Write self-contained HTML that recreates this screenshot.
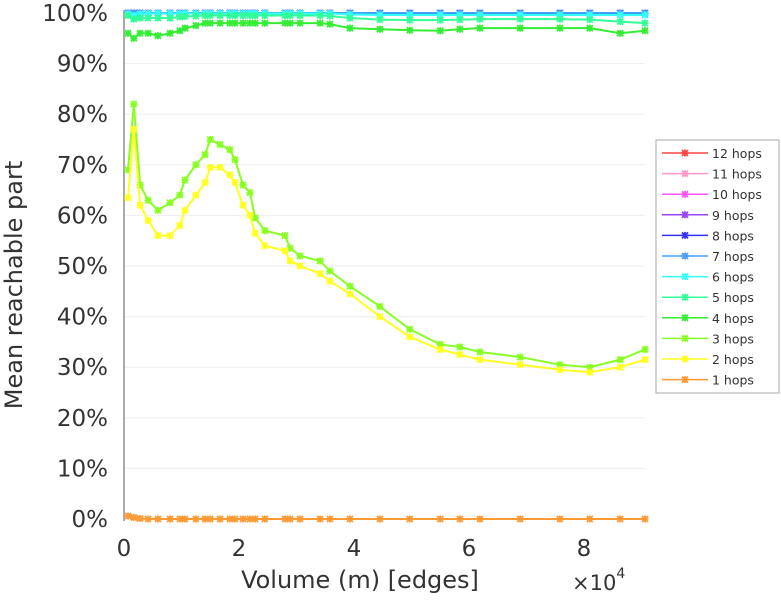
<!DOCTYPE html>
<html><head><meta charset="utf-8"><style>
body{margin:0;background:#fff;font-family:"DejaVu Sans",sans-serif}
svg text{font-family:"DejaVu Sans","Liberation Sans",sans-serif;fill:#333}
</style></head><body>
<svg id="chart" width="781" height="600" xmlns="http://www.w3.org/2000/svg">
<g id="grid"></g>
<g id="yticks"></g>
<g id="xticks"></g>
<line x1="124" y1="10" x2="124" y2="521" stroke="#aaa" stroke-width="2"/>
<g id="series"></g>
<text x="22" y="285" font-size="24" text-anchor="middle" transform="rotate(-90 22 285)">Mean reachable part</text>
<text x="360" y="588" font-size="24" text-anchor="middle">Volume (m) [edges]</text>
<text x="572" y="590" font-size="21">×10<tspan font-size="14" dy="-12">4</tspan></text>
<g id="legend"></g>
</svg>
<script>
const xTicks=[0,2,4,6,8];
const yTicks=[0,10,20,30,40,50,60,70,80,90,100];
const xs=[0.07,0.17,0.28,0.42,0.59,0.80,0.97,1.06,1.25,1.41,1.50,1.67,1.84,1.93,2.07,2.19,2.28,2.45,2.80,2.89,3.06,3.41,3.58,3.93,4.45,4.97,5.50,5.84,6.19,6.89,7.58,8.10,8.63,9.06];
const hop1=[0.6,0.3,0.1,0,0,0,0,0,0,0,0,0,0,0,0,0,0,0,0,0,0,0,0,0,0,0,0,0,0,0,0,0,0,0];
const hop2=[63.5,77,62,59,56,56,58,61,64,66.5,69.5,69.5,68,66.5,62,60,56.5,54,53,51,50,48.5,47,44.5,40,36,33.5,32.5,31.5,30.5,29.5,29,30,31.5];
const hop3=[69,82,66,63,61,62.5,64,67,70,72,75,74,73,71,66,64.5,59.5,57,56,53.5,52,51,49,46,42,37.5,34.5,34,33,32,30.5,30,31.5,33.5];
const hop4=[96,95,96,96,95.5,96,96.5,97,97.5,98,98,98,98,98,98,98,98,98,98,98,98,98,97.8,97,96.8,96.6,96.5,96.8,97,97,97,97,96,96.5];
const hop5=[99.5,98.8,99,99,99,99,99.2,99.3,99.4,99.5,99.5,99.5,99.5,99.5,99.5,99.5,99.5,99.5,99.5,99.5,99.5,99.5,99.4,99,98.7,98.6,98.6,98.7,98.8,98.8,98.8,98.7,98.3,98];
const hop6=[99.8,99.5,99.8,99.9,99.9,99.9,99.9,99.9,99.9,99.9,99.9,99.9,99.9,99.9,99.9,99.9,99.9,99.9,99.9,99.9,99.9,99.9,99.9,99.7,99.6,99.6,99.6,99.6,99.6,99.6,99.6,99.6,99.6,99.6];
const hopFull=[100,100,100,100,100,100,100,100,100,100,100,100,100,100,100,100,100,100,100,100,100,100,100,100,100,100,100,100,100,100,100,100,100,100];
const labels=["12 hops","11 hops","10 hops","9 hops","8 hops","7 hops","6 hops","5 hops","4 hops","3 hops","2 hops","1 hops"];
const colors=["#ff4444","#ff99cc","#ff55ff","#9944ff","#3333ff","#44a0ff","#33ffff","#33ff99","#33ee33","#88ff22","#ffff22","#ff9933"];
const seriesData=[hopFull,hopFull,hopFull,hopFull,hopFull,hopFull,hop6,hop5,hop4,hop3,hop2,hop1];
const NS="http://www.w3.org/2000/svg";
const X=v=>124+v*57.5, Y=v=>519-v*5.06;
function mk(t,a,p){const e=document.createElementNS(NS,t);for(const k in a)e.setAttribute(k,a[k]);p.appendChild(e);return e;}
const grid=document.getElementById('grid'),yt=document.getElementById('yticks'),xt=document.getElementById('xticks');
yTicks.forEach(v=>{
 const l=mk('line',{x1:124,x2:645,y1:Y(v),y2:Y(v),stroke:'#eee'},grid);
 
 
 const t=mk('text',{x:108,y:Y(v)+8,'font-size':23,'text-anchor':'end'},yt);t.textContent=v+'%';
 
 
});
xTicks.forEach(v=>{
 const t=mk('text',{x:X(v),y:556,'font-size':23,'text-anchor':'middle'},xt);t.textContent=v;
 
 
});
function star(g,x,y,c){
 mk('path',{d:`M${x-3},${y-3}L${x+3},${y+3}M${x-3},${y+3}L${x+3},${y-3}M${x},${y-3.5}L${x},${y+3.5}M${x-3.5},${y}L${x+3.5},${y}`,stroke:c,'stroke-width':1.8},g);
}
const sg=document.getElementById('series');
for(let i=0;i<seriesData.length;i++){
 const g=mk('g',{},sg);
 
 
 const d=seriesData[i];
 mk('polyline',{points:xs.map((x,j)=>X(x)+','+Y(d[j])).join(' '),fill:'none',stroke:colors[i],'stroke-width':2},g);
 xs.forEach((x,j)=>star(g,X(x),Y(d[j]),colors[i]));
}
const lg=document.getElementById('legend');
const box=mk('rect',{x:656,y:140,width:123,height:253,fill:'#fff',stroke:'#aaa'},lg);


labels.forEach((lab,i)=>{
 const y=153+i*20.6;
 const g=mk('g',{},lg);
 
 
 mk('line',{x1:662,x2:708,y1:y,y2:y,stroke:colors[i],'stroke-width':1.5},g);
 star(g,685,y,colors[i]);
 const t=mk('text',{x:712,y:y+5,'font-size':12.5},g);t.textContent=lab;
});
</script>
</body></html>
